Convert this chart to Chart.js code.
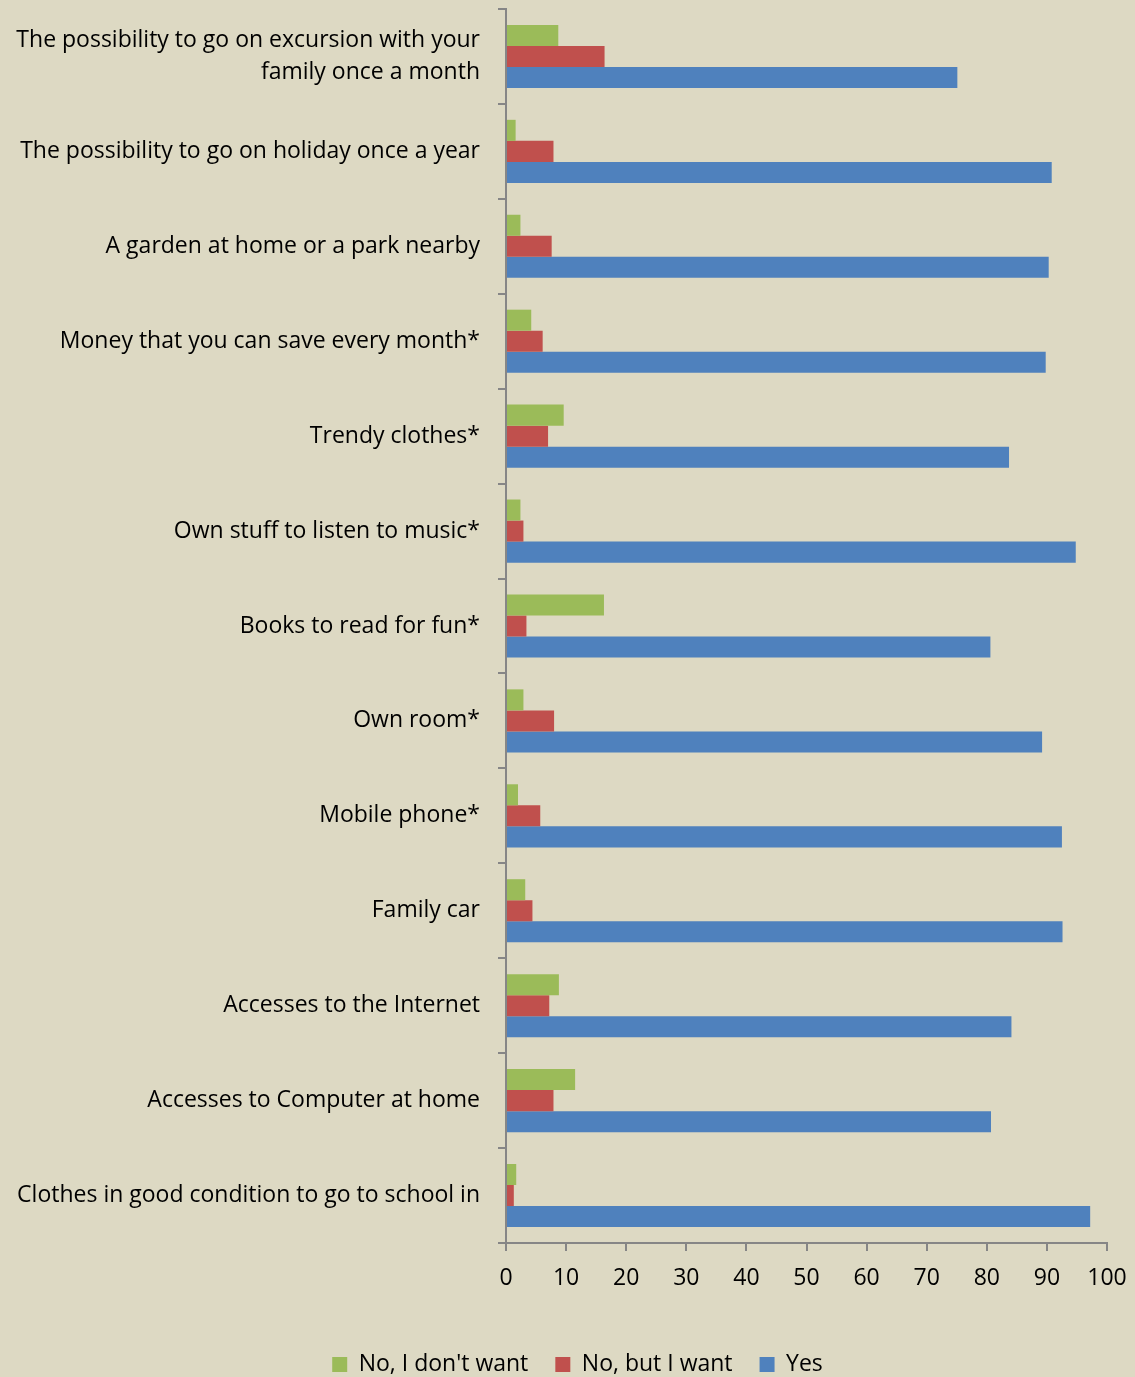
<!DOCTYPE html>
<html>
<head>
<meta charset="utf-8">
<script src="https://cdn.jsdelivr.net/npm/chart.js@4.4.3/dist/chart.umd.min.js"></script>
<style>
  html, body { margin: 0; padding: 0; background: #ddd9c3; }
  #wrap { width: 1135px; height: 1377px; position: relative; }
</style>
</head>
<body>
<div id="wrap"><canvas id="chart"></canvas></div>
<script>
// categories, top to bottom
const categories = [
    ['The possibility to go on excursion with your', 'family once a month'],
    'The possibility to go on holiday once a year',
    'A garden at home or a park nearby',
    'Money that you can save every month*',
    'Trendy clothes*',
    'Own stuff to listen to music*',
    'Books to read for fun*',
    'Own room*',
    'Mobile phone*',
    'Family car',
    'Accesses to the Internet',
    'Accesses to Computer at home',
    'Clothes in good condition to go to school in'
];

const noDontWant = [8.7, 1.6, 2.4, 4.2, 9.6, 2.4, 16.3, 2.9, 2.0, 3.2, 8.8, 11.5, 1.7];
const noButWant  = [16.4, 7.9, 7.6, 6.1, 7.0, 2.9, 3.4, 8.0, 5.7, 4.4, 7.2, 7.9, 1.3];
const yes        = [75.1, 90.8, 90.3, 89.8, 83.7, 94.8, 80.6, 89.2, 92.5, 92.6, 84.1, 80.7, 97.2];

const xTicks = [0, 10, 20, 30, 40, 50, 60, 70, 80, 90, 100];

const FONT = '"Open Sans", "Noto Sans", sans-serif';
const FONT_SIZE = 23;
const AXIS_GREY = '#868686';

// legend sits a little right of the page centre
const legendShift = {
    id: 'legendShift',
    afterLayout(chart) {
        const legend = chart.legend;
        if (!legend) return;
        legend.left += 24;
        legend.right += 24;
    }
};

new Chart(document.getElementById('chart'), {
    type: 'bar',
    data: {
        labels: categories,
        datasets: [
            { label: "No, I don't want", data: noDontWant, backgroundColor: '#9bbb59' },
            { label: 'No, but I want', data: noButWant, backgroundColor: '#c0504d' },
            { label: 'Yes', data: yes, backgroundColor: '#4f81bd' }
        ]
    },
    plugins: [legendShift],
    options: {
        indexAxis: 'y',
        responsive: true,
        maintainAspectRatio: false,
        animation: false,
        datasets: {
            bar: { categoryPercentage: 0.665, barPercentage: 1.0 }
        },
        layout: { padding: { left: 0, right: 28, top: 9, bottom: -9 } },
        scales: {
            x: {
                min: 0,
                max: 100,
                afterBuildTicks: (axis) => { axis.ticks = xTicks.map(v => ({ value: v })); },
                afterFit: (axis) => { axis.height = 83; axis.paddingLeft = 0; axis.paddingRight = 0; },
                border: { color: AXIS_GREY, width: 2 },
                grid: { drawOnChartArea: false, tickLength: 8, color: AXIS_GREY, lineWidth: 2 },
                ticks: { color: '#000', font: { family: FONT, size: FONT_SIZE }, padding: 14, maxRotation: 0 }
            },
            y: {
                // keep the plot edges fixed, the long labels would otherwise push them in
                afterFit: (axis) => { axis.width = 506; axis.paddingTop = 0; axis.paddingBottom = 0; },
                border: { color: AXIS_GREY, width: 2 },
                grid: { offset: true, drawOnChartArea: false, tickLength: 8, color: AXIS_GREY, lineWidth: 2 },
                ticks: { color: '#000', font: { family: FONT, size: FONT_SIZE, lineHeight: 1.39 }, padding: 18, autoSkip: false }
            }
        },
        plugins: {
            legend: {
                position: 'bottom',
                labels: {
                    color: '#000',
                    font: { family: FONT, size: FONT_SIZE },
                    boxWidth: 15,
                    boxHeight: 15,
                    padding: 27,
                    useBorderRadius: false
                }
            },
            tooltip: { enabled: false }
        }
    }
});
</script>
</body>
</html>
